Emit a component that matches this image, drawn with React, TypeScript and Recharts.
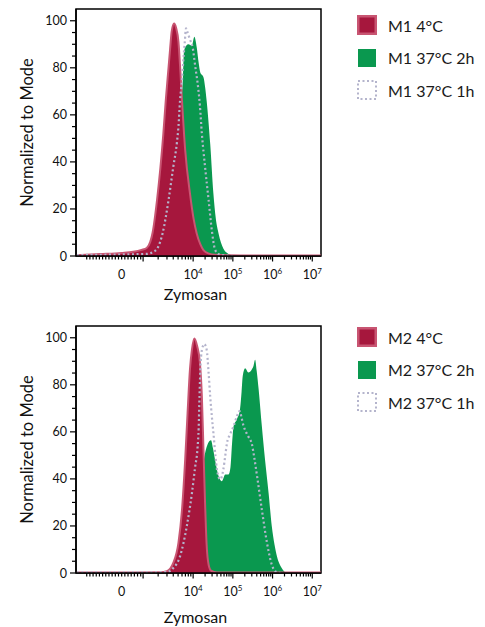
import { ComposedChart, Area, Line, XAxis, YAxis, ReferenceArea, Legend } from 'recharts'

type Pt = [number, number]

const FONT = 'Lato, "Open Sans", sans-serif'
const RED = '#a6173d'
const RED_EDGE = '#c85572'
const GREEN = '#0a984f'
const DOTS = '#b4b4cc'

// x = position on the biexponential axis in decades (10^4 -> 4, 10^5 -> 5 ...)
// y = % of mode
const m1Cold: Pt[] = [
  [1.05, 0.3], [1.66, 0.8], [2.2, 1.3], [2.49, 1.8], [2.7, 2.6], [2.83, 3.4], [2.92, 6], [2.98, 10],
  [3.09, 23.7], [3.25, 52], [3.31, 66], [3.38, 80], [3.42, 88], [3.46, 95.5], [3.52, 98.8], [3.57, 97],
  [3.63, 91], [3.68, 78], [3.72, 66], [3.8, 45], [3.92, 26.6], [4.01, 16], [4.09, 9.6], [4.18, 5],
  [4.26, 2.5], [4.4, 1], [4.55, 0.5], [5.2, 0.2], [7.22, 0.2],
]
const m1Warm2h: Pt[] = [
  [1.05, 0], [2.5, 0.3], [2.83, 1], [3.1, 3], [3.3, 10], [3.45, 25], [3.6, 45], [3.7, 65], [3.74, 75],
  [3.77, 87], [3.83, 89.5], [3.88, 90], [3.97, 89.4], [4.03, 93.2], [4.09, 88.7], [4.14, 82], [4.18, 78],
  [4.26, 76], [4.3, 72], [4.34, 66], [4.43, 47.7], [4.51, 26.6], [4.57, 16], [4.64, 9.6], [4.76, 3.2],
  [4.88, 1], [4.97, 0.3], [5.1, 0], [7.22, 0],
]
const m1Warm1h: Pt[] = [
  [1.07, 0.4], [2.0, 0.6], [2.83, 0.9], [3.0, 1.8], [3.09, 3], [3.23, 9.6], [3.38, 23.7], [3.5, 37.9],
  [3.59, 48], [3.63, 55], [3.67, 66], [3.72, 75], [3.76, 85], [3.79, 91], [3.82, 96.8], [3.86, 95],
  [3.92, 92], [3.99, 88.5], [4.05, 81], [4.13, 71], [4.17, 64], [4.22, 52], [4.3, 37.9], [4.39, 23.7],
  [4.47, 11], [4.55, 2.8], [4.64, 0.8], [4.8, 0.2], [5.0, 0],
]

const m2Cold: Pt[] = [
  [1.05, 0.2], [2.5, 0.2], [3.17, 0.3], [3.34, 0.8], [3.5, 4.3], [3.63, 12.8], [3.72, 27], [3.8, 48.3],
  [3.86, 68], [3.92, 86.6], [3.97, 95], [4.03, 99.7], [4.1, 96.5], [4.17, 89.5], [4.22, 75], [4.26, 52.5],
  [4.3, 30], [4.34, 12], [4.39, 3.5], [4.45, 1], [4.6, 0.2], [7.22, 0.2],
]
const m2Warm2h: Pt[] = [
  [1.05, 0], [3.3, 0], [3.6, 0.6], [3.8, 3.5], [3.95, 9], [4.05, 16], [4.12, 26], [4.2, 38], [4.28, 49],
  [4.36, 54.5], [4.45, 56.4], [4.5, 53], [4.55, 48.3], [4.64, 41.2], [4.72, 39], [4.81, 41.9], [4.89, 41.9],
  [4.94, 45], [4.98, 55], [5.02, 62.5], [5.1, 65.3], [5.18, 69.6], [5.22, 77], [5.25, 83.8], [5.31, 87],
  [5.39, 85.2], [5.48, 86.6], [5.52, 88], [5.56, 90.6], [5.6, 86], [5.65, 78], [5.73, 62.5], [5.81, 48.3],
  [5.9, 34], [5.98, 20], [6.05, 12], [6.11, 7.1], [6.23, 2.1], [6.36, 0], [7.22, 0],
]
const m2Warm1h: Pt[] = [
  [1.07, 0.3], [3.0, 0.3], [3.34, 0.4], [3.5, 2.1], [3.67, 7.1], [3.84, 19.9], [3.97, 34], [4.05, 45],
  [4.11, 53], [4.14, 62], [4.16, 75], [4.19, 89.6], [4.23, 95.5], [4.28, 97.3], [4.34, 95], [4.39, 85],
  [4.43, 75], [4.47, 66.7], [4.51, 59.7], [4.56, 50], [4.6, 44], [4.68, 39.8], [4.76, 44], [4.81, 50],
  [4.85, 55], [4.93, 59], [5.02, 62.5], [5.1, 66.5], [5.17, 68.8], [5.22, 66], [5.27, 62.5], [5.33, 60],
  [5.39, 58], [5.48, 54.7], [5.54, 49], [5.61, 41.2], [5.73, 27], [5.86, 12.8], [5.98, 3.6], [6.07, 0.7],
  [6.2, 0],
]

const m1Names = ['M1 4°C', 'M1 37°C 2h', 'M1 37°C 1h']
const m2Names = ['M2 4°C', 'M2 37°C 2h', 'M2 37°C 1h']

const xLabels = [
  { pos: 2.2, base: '0', exp: '' },
  { pos: 4, base: '10', exp: '4' },
  { pos: 5, base: '10', exp: '5' },
  { pos: 6, base: '10', exp: '6' },
  { pos: 7, base: '10', exp: '7' },
]
const xMajor = [2.74, 4, 5, 6, 7]
const yMajor = [0, 20, 40, 60, 80, 100]

const X_MIN = 1.05
const X_MAX = 7.22
const Y_MAX = 105

// minor ticks: linear stretch around zero, then log steps inside each decade
const linearTicks = Array.from({ length: 18 }, (_, i) => +(1.32 + i * 0.08).toFixed(3))
const decades: Pt[] = [[2.74, 1.26], [4, 1], [5, 1], [6, 1]]
const logTicks = decades.flatMap(([start, w]) =>
  [2, 3, 4, 5, 6, 7, 8, 9].map((m) => +(start + w * Math.log10(m)).toFixed(3)),
)
const xTicks = [...linearTicks, ...logTicks, ...xMajor].sort((a, b) => a - b)
const yTicks = Array.from({ length: 21 }, (_, i) => i * 5)

const toRows = (pts: Pt[]) => pts.map(([x, y]) => ({ x, y }))

function XTick({ x, y, payload }: any) {
  const v = payload.value as number
  const major = xMajor.some((m) => Math.abs(m - v) < 1e-6)
  const lab = xLabels.find((l) => Math.abs(l.pos - v) < 1e-6)
  return (
    <g>
      <line x1={x} x2={x} y1={y} y2={y + (major ? 5.5 : 3.5)} stroke="#000" strokeWidth={1.2} />
      {lab && (
        <text x={x} y={y + 23} textAnchor="middle" fontFamily={FONT} fontSize={12.5} fill="#111">
          {lab.base}
          {lab.exp && (
            <tspan dy={-5} fontSize={8}>
              {lab.exp}
            </tspan>
          )}
        </text>
      )}
    </g>
  )
}

function YTick({ x, y, payload }: any) {
  const v = payload.value as number
  const major = yMajor.includes(v)
  return (
    <g>
      <line x1={x - (major ? 6 : 4)} x2={x} y1={y} y2={y} stroke="#000" strokeWidth={1.2} />
      {major && (
        <text x={x - 9} y={y + 4.5} textAnchor="end" fontFamily={FONT} fontSize={12.5} fill="#111">
          {v}
        </text>
      )}
    </g>
  )
}

function Swatch({ kind }: { kind: number }) {
  if (kind === 0)
    return (
      <svg width={20} height={20}>
        <rect x={1.25} y={1.25} width={17.5} height={17.5} fill={RED} stroke={RED_EDGE} strokeWidth={2.5} />
      </svg>
    )
  if (kind === 1)
    return (
      <svg width={20} height={20}>
        <rect x={1} y={1} width={18} height={18} fill={GREEN} />
      </svg>
    )
  return (
    <svg width={20} height={20}>
      <rect x={1} y={1} width={18} height={18} fill="#fff" stroke={DOTS} strokeWidth={2} strokeDasharray="2 2.5" />
    </svg>
  )
}

function LegendBox({ names }: { names: string[] }) {
  return (
    <div style={{ fontFamily: FONT, fontSize: 16, color: '#1a1a1a' }}>
      {names.map((n, i) => (
        <div key={n} style={{ display: 'flex', alignItems: 'center', height: 32.5 }}>
          <Swatch kind={i} />
          <span style={{ marginLeft: 11, whiteSpace: 'nowrap' }}>{n}</span>
        </div>
      ))}
    </div>
  )
}

interface PanelProps {
  names: string[]
  cold: Pt[]
  warm2h: Pt[]
  warm1h: Pt[]
  height: number
  legendTop: number
  titleOffset: number
}

function Panel({ names, cold, warm2h, warm1h, height, legendTop, titleOffset }: PanelProps) {
  return (
    <ComposedChart width={485} height={height} margin={{ top: 9, right: 164, bottom: 0, left: 0 }}>
      <XAxis
        type="number"
        dataKey="x"
        domain={[X_MIN, X_MAX]}
        allowDataOverflow
        ticks={xTicks}
        interval={0}
        tick={<XTick />}
        tickLine={false}
        tickSize={0}
        tickMargin={0}
        height={height - 9 - 247}
        axisLine={{ stroke: '#000', strokeWidth: 1.5 }}
        label={{
          value: 'Zymosan',
          position: 'insideTop',
          offset: titleOffset,
          dx: -3,
          fontSize: 16,
          fontFamily: FONT,
          fill: '#111',
        }}
      />
      <YAxis
        type="number"
        domain={[0, Y_MAX]}
        allowDataOverflow
        ticks={yTicks}
        interval={0}
        tick={<YTick />}
        tickLine={false}
        tickSize={0}
        tickMargin={0}
        width={76}
        axisLine={{ stroke: '#000', strokeWidth: 1.5 }}
        label={{
          value: 'Normalized to Mode',
          angle: -90,
          position: 'insideLeft',
          offset: 27,
          style: { textAnchor: 'middle' },
          fontSize: 16.5,
          fontFamily: FONT,
          fill: '#111',
        }}
      />
      <ReferenceArea
        x1={X_MIN}
        x2={X_MAX}
        y1={0}
        y2={Y_MAX}
        fill="none"
        stroke="#000"
        strokeWidth={1.5}
        ifOverflow="visible"
      />
      <Area
        data={toRows(warm2h)}
        dataKey="y"
        type="monotone"
        fill={GREEN}
        fillOpacity={1}
        stroke="none"
        isAnimationActive={false}
      />
      <Area
        data={toRows(cold)}
        dataKey="y"
        type="monotone"
        fill={RED}
        fillOpacity={1}
        stroke={RED_EDGE}
        strokeWidth={2}
        isAnimationActive={false}
      />
      <Line
        data={toRows(warm1h)}
        dataKey="y"
        type="monotone"
        stroke={DOTS}
        strokeWidth={2.2}
        strokeDasharray="2 2.6"
        dot={false}
        activeDot={false}
        isAnimationActive={false}
      />
      <Legend
        layout="vertical"
        align="center"
        verticalAlign="middle"
        wrapperStyle={{ left: 357, top: legendTop, width: 128 }}
        content={() => <LegendBox names={names} />}
      />
    </ComposedChart>
  )
}

export default function App() {
  return (
    <div style={{ position: 'absolute', left: 0, top: 0, width: 485, height: 627, background: '#fff', fontFamily: FONT }}>
      <Panel names={m1Names} cold={m1Cold} warm2h={m1Warm2h} warm1h={m1Warm1h} height={317} legendTop={9} titleOffset={33} />
      <Panel names={m2Names} cold={m2Cold} warm2h={m2Warm2h} warm1h={m2Warm1h} height={310} legendTop={4} titleOffset={39} />
    </div>
  )
}
